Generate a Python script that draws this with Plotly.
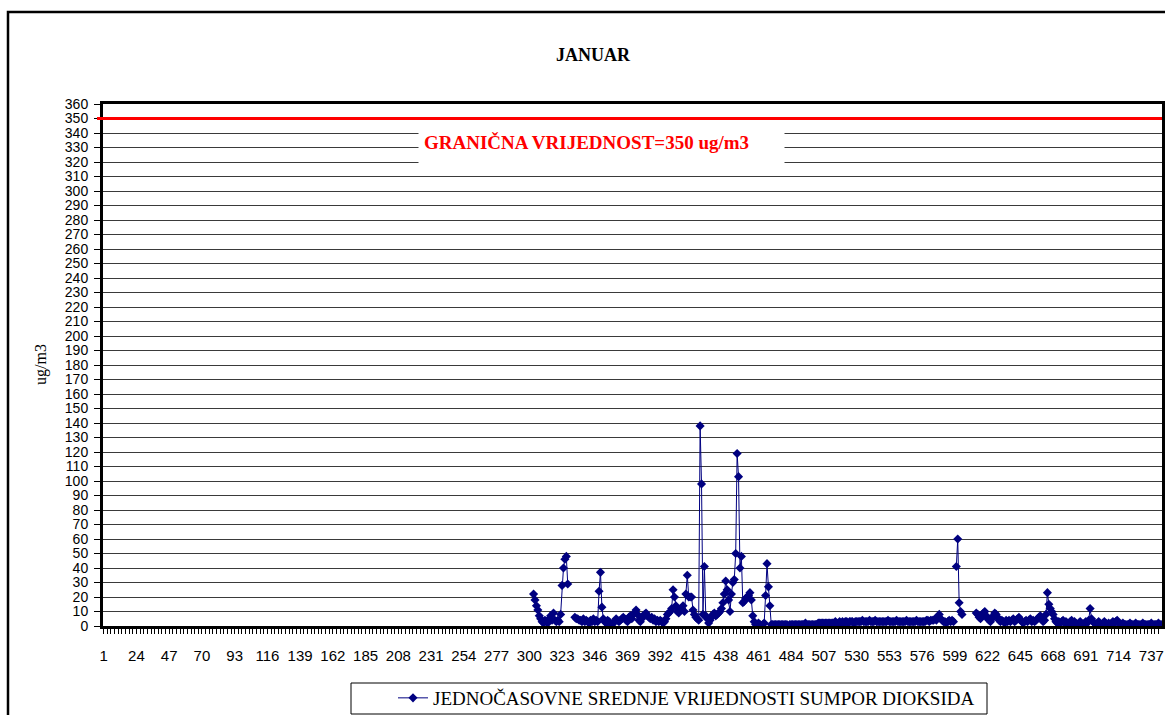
import plotly.graph_objects as go

# ---- data -------------------------------------------------------------
first_hour = 303
so2_values = [
    22, 18, 14, 11, 7, 5, 3,                      # 303-309
    2, 4, 3, 2, 5, 7, 4, 9, 4, 3,                 # 310-319
    4, 3, 8, 28, 40, 46, 48, 29, None, None,      # 320-329
    None, None, 6, 5, 5, 4, 4, 3, 5, 3,           # 330-339
    4, 3, 2, 4, 3, 5, 3, 4, 3, 24,                # 340-349
    37, 13, 5, 3, 2, 4, 3, 2, 1, 2,               # 350-359
    3, 5, 4, 3, 4, 5, 6, 5, 4, 3,                 # 360-369
    6, 7, 5, 8, 9, 11, 8, 4, 3, 5,                # 370-379
    7, 8, 9, 7, 6, 5, 6, 4, 5, 3,                 # 380-389
    4, 3, 4, 3, 2, 3, 5, 8, 9, 10,                # 390-399
    12, 25, 20, 14, 10, 9, 11, 12, 14, 10,        # 400-409
    22, 35, 20, 20, 20, 11, 8, 6, 5, 4,           # 410-419
    138, 98, 8, 41, 7, 5, 2, 4, 6, 8,             # 420-429
    9, 7, 8, 9, 10, 12, 16, 22, 31, 25,           # 430-439
    18, 10, 22, 30, 32, 50, 119, 103, 40, 48,     # 440-449
    16, 17, 19, 20, 21, 23, 18, 7, 3, 1,          # 450-459
    1, 2, 1, 0, 1, 2, 21, 43, 27, 14,             # 460-469
    1, 1, 1, 1, 1, 1, 1, 1, 1, 1,                 # 470-479
    1, 1, 0, 1, 1, 1, 1, 1, 1, 1,                 # 480-489
    1, 1, 1, 1, 2, 1, 1, 1, 1, 1,                 # 490-499
    1, 1, 1, 2, 2, 2, 2, 2, 2, 2,                 # 500-509
    2, 2, 2, 2, 2, 3, 2, 2, 3, 2,                 # 510-519
    3, 2, 3, 3, 2, 3, 3, 3, 2, 3,                 # 520-529
    3, 3, 3, 3, 4, 3, 3, 3, 3, 4,                 # 530-539
    3, 3, 3, 4, 3, 3, 3, 3, 3, 3,                 # 540-549
    3, 3, 4, 3, 3, 3, 3, 3, 4, 3,                 # 550-559
    3, 3, 3, 3, 3, 4, 3, 3, 3, 3,                 # 560-569
    3, 3, 4, 3, 3, 3, 3, 3, 3, 4,                 # 570-579
    4, 3, 4, 4, 4, 5, 4, 6, 8, 5,                 # 580-589
    4, 3, 3, 2, 3, 4, 3, 4, 3, None,              # 590-599
    41, 60, 16, 10, 8, None, None, None, None, None,  # 600-609
    None, None, None, None, 9, 8, 6, 5, 7, 9,     # 610-619
    10, 7, 5, 4, 3, 5, 7, 9, 8, 6,                # 620-629
    4, 3, 4, 3, 2, 4, 3, 4, 3, 4,                 # 630-639
    5, 3, 4, 5, 6, 4, 3, 2, 3, 4,                 # 640-649
    3, 4, 5, 3, 4, 3, 4, 5, 6, 7,                 # 650-659
    5, 3, 4, 8, 23, 15, 12, 10, 8, 5,             # 660-669
    3, 2, 3, 2, 3, 4, 2, 3, 2, 1,                 # 670-679
    3, 4, 2, 3, 2, 1, 2, 3, 2, 1,                 # 680-689
    2, 3, 2, 4, 12, 5, 3, 2, 1, 2,                # 690-699
    3, 2, 1, 2, 3, 2, 1, 2, 1, 2,                 # 700-709
    3, 2, 3, 4, 2, 1, 1, 2, 1, 1,                 # 710-719
    1, 1, 2, 1, 1, 1, 2, 1, 1, 1,                 # 720-729
    1, 2, 1, 1, 1, 1, 1, 2, 1, 1,                 # 730-739
    1, 1, 2, 1, 1,                                # 740-744
]
hours = list(range(first_hour, first_hour + len(so2_values)))

x_tick_labels = [1, 24, 47, 70, 93, 116, 139, 162, 185, 208, 231, 254, 277,
                 300, 323, 346, 369, 392, 415, 438, 461, 484, 507, 530, 553,
                 576, 599, 622, 645, 668, 691, 714, 737]
y_ticks = list(range(0, 361, 10))
limit_value = 350

title_text = "JANUAR"
series_name = "JEDNOČASOVNE SREDNJE VRIJEDNOSTI SUMPOR DIOKSIDA"
limit_text = "GRANIČNA VRIJEDNOST=350 ug/m3"
y_title = "ug/m3"

# ---- layout helpers ---------------------------------------------------
W, H = 1165, 715
L, R, T, B = 103, 3, 104, 89
PW, PH = W - L - R, H - T - B


def px(xp):
    return (xp - L) / PW


def py(yp):
    return (H - B - yp) / PH


sans = "Liberation Sans, Arial, sans-serif"
serif = "Liberation Serif, Times New Roman, serif"
navy = "#000080"

fig = go.Figure()
fig.add_trace(go.Scatter(
    x=hours, y=so2_values, name=series_name, mode="lines+markers",
    connectgaps=False,
    line=dict(color=navy, width=1),
    marker=dict(symbol="diamond", size=7, color=navy),
))

fig.update_layout(
    width=W, height=H,
    margin=dict(l=L, r=R, t=T, b=B, pad=0, autoexpand=False),
    paper_bgcolor="white", plot_bgcolor="white",
    showlegend=True,
    legend=dict(x=px(393), y=py(698), xanchor="left", yanchor="middle",
                font=dict(family=serif, size=19, color="black"),
                bgcolor="rgba(0,0,0,0)", borderwidth=0, itemwidth=30),
    xaxis=dict(
        range=[0.5, 744.5], tickmode="array", tickvals=x_tick_labels,
        ticktext=[str(v) for v in x_tick_labels],
        showgrid=False, zeroline=False, automargin=False,
        showline=True, linecolor="black", linewidth=3, mirror=True,
        ticks="outside", ticklen=5, tickcolor="black", tickwidth=1,
        minor=dict(ticks="outside", tick0=1, dtick=23 / 9, ticklen=5,
                   tickcolor="black", tickwidth=1),
        tickfont=dict(family=sans, size=15, color="black"),
        ticklabelstandoff=9,
    ),
    yaxis=dict(
        range=[0, 360], tickmode="array", tickvals=y_ticks,
        showgrid=True, gridcolor="#3a3a3a", gridwidth=1, zeroline=False,
        automargin=False,
        showline=True, linecolor="black", linewidth=3, mirror=True,
        ticks="outside", ticklen=6, tickcolor="black",
        tickfont=dict(family=sans, size=14, color="black"),
        ticklabelstandoff=3,
    ),
)

shapes = [
    # outer chart frame
    dict(type="rect", xref="paper", yref="paper",
         x0=px(8), x1=px(1175), y0=py(725), y1=py(12),
         line=dict(color="black", width=2.5), fillcolor="rgba(0,0,0,0)"),
    # limit line
    dict(type="line", xref="paper", yref="y", x0=px(97), x1=1,
         y0=limit_value, y1=limit_value, line=dict(color="#ff0000", width=3)),
    # legend box
    dict(type="rect", xref="paper", yref="paper",
         x0=px(351), x1=px(987), y0=py(714), y1=py(683),
         line=dict(color="black", width=1), fillcolor="rgba(0,0,0,0)"),
]
fig.update_layout(shapes=shapes)

fig.add_annotation(text=f"<b>{limit_text}</b>", xref="paper", yref="y",
                   x=px(418), y=330, xanchor="left", yanchor="middle",
                   width=355, height=32, borderpad=5, align="left",
                   valign="top", bgcolor="white", showarrow=False,
                   font=dict(family=serif, size=19, color="#ff0000"))
fig.add_annotation(text=f"<b>{title_text}</b>", xref="paper", yref="paper",
                   x=px(593), y=py(43), showarrow=False,
                   font=dict(family=serif, size=18, color="black"))
fig.add_annotation(text=y_title, xref="paper", yref="paper",
                   x=px(30), y=py(365), textangle=-90, showarrow=False,
                   font=dict(family=serif, size=16, color="black"))

fig.write_html("out.html",
               config={"displayModeBar": False},
               post_script="document.body.style.margin='0';"
                           "document.body.style.overflow='hidden';")
